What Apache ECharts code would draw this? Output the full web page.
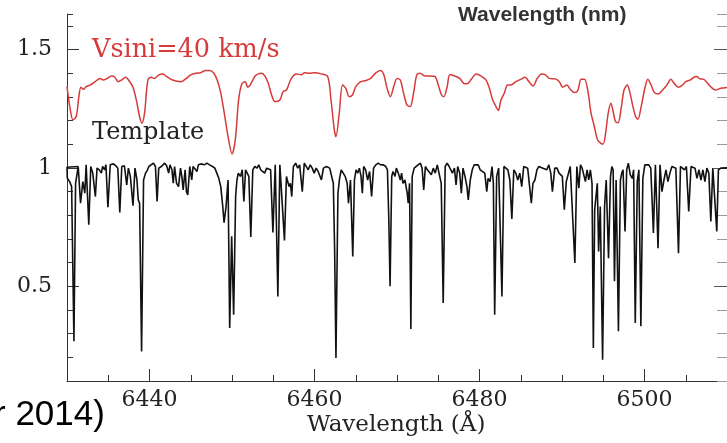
<!DOCTYPE html>
<html>
<head>
<meta charset="utf-8">
<script src="https://cdn.jsdelivr.net/npm/echarts@6/dist/echarts.min.js"></script>
<style>
  html, body { margin: 0; padding: 0; background: #fff; }
  #spectrum { width: 727px; height: 443px; }
</style>
</head>
<body>
<div id="spectrum"></div>
<script>
// axis ranges and tick labels
var waveMin = 6430, waveMax = 6510;
var fluxMin = 0.1, fluxMax = 1.65;
var waveLabels = [6440, 6460, 6480, 6500];
var fluxLabels = [0.5, 1, 1.5];

// template spectrum [wavelength (A), normalised flux]
var templateSpectrum = [
  [6431.36,1.006],[6430.00,1.003],
  [6430.04,0.956],[6430.32,0.942],[6430.56,0.921],[6430.84,0.268],[6431.04,0.935],[6431.36,1.006],
  [6431.64,0.851],[6431.92,0.942],[6432.16,0.893],[6432.32,1.013],[6432.64,0.760],[6432.88,1.006],
  [6433.12,0.978],[6433.44,0.879],[6433.64,0.999],[6433.92,0.992],[6434.16,0.978],[6434.32,1.006],
  [6434.56,0.992],[6434.72,1.013],[6434.96,0.834],[6435.24,1.013],[6435.64,1.017],[6435.92,1.009],
  [6436.16,0.999],[6436.40,0.812],[6436.64,1.006],[6436.96,1.009],[6437.24,0.928],[6437.44,0.999],
  [6437.68,0.964],[6438.00,0.840],[6438.24,0.999],[6438.48,0.949],[6438.64,0.865],[6438.80,0.851],
  [6439.04,0.225],[6439.28,0.949],[6439.52,0.978],[6439.76,0.992],[6439.92,1.006],[6440.16,0.999],
  [6440.48,1.020],[6440.72,1.006],[6440.92,0.858],[6441.12,0.999],[6441.44,1.006],[6441.84,1.020],
  [6442.08,1.009],[6442.32,0.978],[6442.48,1.013],[6442.72,0.992],[6442.88,0.935],[6443.04,1.006],
  [6443.28,0.935],[6443.52,0.921],[6443.76,0.999],[6443.92,0.964],[6444.08,0.907],[6444.32,0.992],
  [6444.48,0.900],[6444.64,0.886],[6444.88,1.006],[6445.12,0.949],[6445.28,1.006],[6445.76,0.985],
  [6445.92,1.013],[6446.24,1.017],[6446.64,1.013],[6446.96,1.020],[6447.28,1.013],[6447.64,1.006],
  [6447.92,0.999],[6448.16,0.978],[6448.40,0.956],[6448.64,0.921],[6448.88,0.837],[6449.04,0.769],
  [6449.28,0.837],[6449.52,0.949],[6449.72,0.324],[6449.96,0.711],[6450.20,0.380],[6450.44,0.879],
  [6450.60,0.949],[6450.76,0.978],[6451.04,0.964],[6451.24,0.992],[6451.44,0.858],[6451.64,0.992],
  [6451.84,0.999],[6452.04,0.964],[6452.28,0.708],[6452.52,0.992],[6452.76,1.006],[6453.04,0.999],
  [6453.24,1.013],[6453.48,0.992],[6453.72,0.999],[6453.96,0.978],[6454.20,0.999],[6454.44,1.006],
  [6454.68,0.992],[6454.96,0.727],[6455.24,1.013],[6455.56,0.457],[6455.80,1.013],[6456.04,1.006],
  [6456.36,0.694],[6456.60,0.964],[6456.76,0.942],[6456.92,0.921],[6457.08,0.935],[6457.24,0.879],
  [6457.44,1.006],[6457.72,1.020],[6457.96,0.999],[6458.20,1.013],[6458.52,0.900],[6458.76,1.020],
  [6459.00,1.013],[6459.24,0.992],[6459.48,1.013],[6459.72,0.999],[6459.96,0.978],[6460.20,0.999],
  [6460.44,0.985],[6460.84,0.949],[6461.08,0.999],[6461.44,1.006],[6461.84,0.999],[6462.04,0.992],
  [6462.28,0.935],[6462.44,0.654],[6462.60,0.197],[6462.84,0.893],[6463.04,0.956],[6463.24,0.992],
  [6463.48,0.999],[6463.72,0.964],[6463.96,0.935],[6464.12,0.851],[6464.36,0.949],[6464.64,0.626],
  [6464.84,0.949],[6465.04,0.992],[6465.24,0.978],[6465.44,0.999],[6465.64,0.964],[6465.80,0.893],
  [6465.96,1.006],[6466.20,0.992],[6466.44,0.949],[6466.68,0.985],[6466.92,0.879],[6467.16,0.999],
  [6467.44,1.013],[6467.72,1.020],[6468.04,1.013],[6468.36,1.013],[6468.64,1.006],[6468.84,0.992],
  [6469.00,0.795],[6469.16,0.500],[6469.36,0.964],[6469.52,0.985],[6469.76,0.964],[6469.92,0.999],
  [6470.16,0.978],[6470.40,0.949],[6470.56,0.978],[6470.72,0.935],[6470.96,0.949],[6471.24,0.893],
  [6471.36,0.851],[6471.52,0.935],[6471.68,0.320],[6471.84,0.964],[6472.08,0.999],[6472.32,1.006],
  [6472.56,1.013],[6472.84,1.020],[6473.04,0.999],[6473.24,0.907],[6473.44,1.006],[6473.68,0.992],
  [6473.92,0.985],[6474.16,0.971],[6474.40,0.999],[6474.64,0.978],[6474.88,1.013],[6475.12,1.006],
  [6475.36,0.935],[6475.60,0.429],[6475.84,1.006],[6476.08,1.020],[6476.32,1.006],[6476.48,1.013],
  [6476.72,0.978],[6476.96,0.999],[6477.16,0.928],[6477.36,1.006],[6477.60,0.978],[6477.80,0.893],
  [6478.00,0.999],[6478.24,0.964],[6478.48,0.921],[6478.64,0.865],[6478.88,0.949],[6479.12,0.992],
  [6479.36,1.013],[6479.60,1.006],[6479.84,1.013],[6480.08,0.992],[6480.32,0.999],[6480.64,0.978],
  [6480.88,0.900],[6481.04,0.956],[6481.28,0.942],[6481.52,1.006],[6481.68,0.935],[6481.84,0.380],
  [6482.08,0.964],[6482.32,0.999],[6482.48,0.992],[6482.72,0.457],[6482.96,1.006],[6483.20,1.013],
  [6483.44,0.992],[6483.68,0.949],[6483.92,0.784],[6484.16,0.992],[6484.40,0.978],[6484.64,0.949],
  [6484.88,0.978],[6485.12,0.921],[6485.36,1.006],[6485.60,1.013],[6485.84,0.999],[6486.08,0.992],
  [6486.28,0.851],[6486.48,0.935],[6486.72,0.949],[6486.96,0.992],[6487.20,1.006],[6487.44,1.013],
  [6487.68,0.999],[6487.92,1.006],[6488.16,0.992],[6488.40,1.013],[6488.64,0.978],[6488.84,0.900],
  [6489.12,0.999],[6489.40,0.999],[6489.64,0.978],[6489.88,0.985],[6490.04,0.964],[6490.28,0.823],
  [6490.52,0.942],[6490.76,0.949],[6491.00,1.006],[6491.24,1.013],[6491.56,0.598],[6491.80,1.006],
  [6492.04,0.914],[6492.24,1.013],[6492.44,0.999],[6492.64,1.006],[6492.84,0.942],[6493.04,0.992],
  [6493.24,0.949],[6493.44,0.992],[6493.64,0.935],[6493.80,0.239],[6493.96,0.823],[6494.12,0.879],
  [6494.28,0.935],[6494.44,0.647],[6494.64,0.837],[6494.92,0.190],[6495.16,0.837],[6495.36,0.949],
  [6495.64,0.619],[6495.88,0.964],[6496.04,1.006],[6496.20,0.992],[6496.36,0.521],[6496.56,0.949],
  [6496.84,0.310],[6497.08,0.949],[6497.24,0.978],[6497.40,0.992],[6497.64,0.732],[6497.84,0.992],
  [6498.04,1.020],[6498.28,0.971],[6498.52,0.956],[6498.68,0.992],[6498.88,0.345],[6499.12,0.942],
  [6499.32,0.992],[6499.56,0.331],[6499.80,0.956],[6500.04,1.013],[6500.28,1.006],[6500.52,1.013],
  [6500.76,0.999],[6501.08,0.725],[6501.32,1.013],[6501.64,0.661],[6501.88,1.013],[6502.12,0.900],
  [6502.36,0.949],[6502.60,0.992],[6502.84,0.942],[6503.08,0.978],[6503.32,1.006],[6503.56,1.013],
  [6503.80,0.999],[6504.12,0.640],[6504.36,1.006],[6504.60,1.013],[6504.84,0.992],[6505.08,1.006],
  [6505.36,0.816],[6505.64,1.006],[6505.88,1.013],[6506.12,0.999],[6506.36,0.956],[6506.60,0.992],
  [6506.84,0.949],[6507.08,0.992],[6507.32,0.942],[6507.56,0.999],[6507.80,0.978],[6508.04,0.774],
  [6508.28,0.999],[6508.52,0.999],[6508.76,0.732],[6508.96,0.992],[6509.24,0.999],[6510.00,1.000]
];

// broadened spectrum, vsini = 40 km/s (offset +0.4)
var broadSpectrum = [
  [6430.00,1.343],[6430.40,1.245],[6430.72,1.203],[6431.12,1.217],[6431.44,1.301],[6431.68,1.341],
  [6432.00,1.332],[6432.32,1.343],[6432.80,1.350],[6433.40,1.364],[6434.00,1.378],[6434.40,1.371],
  [6434.88,1.378],[6435.40,1.388],[6435.80,1.383],[6436.20,1.364],[6436.60,1.371],[6437.12,1.383],
  [6437.60,1.364],[6438.00,1.341],[6438.40,1.287],[6438.80,1.217],[6439.08,1.189],[6439.40,1.231],
  [6439.80,1.371],[6440.20,1.383],[6440.60,1.378],[6441.12,1.393],[6441.60,1.397],[6442.00,1.388],
  [6442.80,1.371],[6443.80,1.364],[6444.40,1.376],[6445.00,1.393],[6445.60,1.400],[6446.20,1.402],
  [6446.80,1.411],[6447.28,1.411],[6447.80,1.400],[6448.20,1.371],[6448.60,1.322],[6449.00,1.245],
  [6449.52,1.132],[6450.00,1.059],[6450.40,1.118],[6450.80,1.287],[6451.20,1.355],[6451.60,1.364],
  [6451.90,1.341],[6452.20,1.350],[6452.80,1.388],[6453.20,1.397],[6453.60,1.400],[6454.00,1.388],
  [6454.40,1.357],[6454.80,1.308],[6455.20,1.280],[6455.80,1.287],[6456.20,1.322],[6456.60,1.329],
  [6457.00,1.364],[6457.40,1.388],[6457.80,1.397],[6458.40,1.393],[6458.80,1.402],[6459.40,1.400],
  [6460.00,1.402],[6460.80,1.397],[6461.60,1.386],[6462.00,1.287],[6462.40,1.161],[6462.60,1.132],
  [6463.00,1.231],[6463.40,1.350],[6463.80,1.336],[6464.20,1.301],[6464.60,1.308],[6465.00,1.343],
  [6465.60,1.364],[6466.20,1.369],[6466.80,1.378],[6467.40,1.400],[6468.00,1.411],[6468.40,1.393],
  [6468.80,1.336],[6469.20,1.301],[6469.60,1.343],[6470.00,1.378],[6470.40,1.371],[6470.80,1.315],
  [6471.20,1.266],[6471.60,1.259],[6472.00,1.315],[6472.40,1.393],[6472.80,1.400],[6473.40,1.388],
  [6474.00,1.388],[6474.60,1.386],[6475.00,1.350],[6475.40,1.308],[6475.68,1.301],[6476.08,1.343],
  [6476.40,1.393],[6477.00,1.388],[6477.60,1.378],[6478.20,1.355],[6478.60,1.357],[6479.00,1.374],
  [6479.60,1.397],[6480.20,1.388],[6480.80,1.371],[6481.20,1.336],[6481.60,1.287],[6482.00,1.259],
  [6482.28,1.242],[6482.60,1.287],[6483.00,1.315],[6483.40,1.350],[6483.80,1.350],[6484.40,1.364],
  [6485.00,1.374],[6485.52,1.383],[6486.00,1.364],[6486.48,1.346],[6487.00,1.378],[6487.52,1.397],
  [6488.00,1.393],[6488.48,1.378],[6489.20,1.376],[6489.68,1.364],[6490.08,1.341],[6490.60,1.350],
  [6491.00,1.332],[6491.52,1.318],[6491.92,1.327],[6492.32,1.374],[6492.72,1.374],[6493.12,1.329],
  [6493.52,1.231],[6493.92,1.175],[6494.32,1.118],[6494.72,1.104],[6495.00,1.101],[6495.28,1.146],
  [6495.60,1.231],[6495.92,1.273],[6496.20,1.238],[6496.48,1.196],[6496.80,1.191],[6497.20,1.259],
  [6497.52,1.329],[6497.92,1.350],[6498.20,1.322],[6498.60,1.259],[6498.92,1.217],[6499.20,1.206],
  [6499.60,1.259],[6500.00,1.329],[6500.40,1.374],[6500.80,1.350],[6501.20,1.318],[6501.68,1.312],
  [6502.20,1.329],[6502.72,1.350],[6503.20,1.374],[6503.60,1.357],[6504.08,1.341],[6504.60,1.350],
  [6505.00,1.364],[6505.52,1.371],[6506.00,1.383],[6506.32,1.386],[6506.72,1.376],[6507.20,1.374],
  [6507.60,1.360],[6508.08,1.341],[6508.60,1.329],[6509.24,1.336],[6510.00,1.340]
];

var axisColor = '#333';
var serif = 'DejaVu Serif';

var chart = echarts.init(document.getElementById('spectrum'));

var option = {
  animation: false,
  backgroundColor: '#fff',
  grid: { left: 67, right: -6, top: 14, bottom: 62 },
  xAxis: [
    {
      type: 'value', min: waveMin, max: waveMax, interval: 5,
      axisLine: { lineStyle: { color: axisColor, width: 1 } },
      axisTick: { inside: true, length: 6, lineStyle: { color: axisColor } },
      axisLabel: {
        customValues: waveLabels, margin: 8,
        fontFamily: serif, fontSize: 22, color: '#222',
        formatter: function (v) { return String(v); }
      },
      splitLine: { show: false }
    },
    {
      type: 'value', min: waveMin, max: waveMax, position: 'bottom',
      axisLine: { show: false },
      axisTick: { inside: true, length: 12, customValues: waveLabels, lineStyle: { color: axisColor } },
      axisLabel: { show: false },
      splitLine: { show: false }
    }
  ],
  yAxis: [
    {
      type: 'value', min: fluxMin, max: fluxMax, interval: 0.1, position: 'left',
      axisLine: { show: true, lineStyle: { color: axisColor, width: 1 } },
      axisTick: { show: true, inside: true, length: 6, lineStyle: { color: axisColor } },
      axisLabel: {
        customValues: fluxLabels, margin: 15,
        fontFamily: serif, fontSize: 22, color: '#222',
        formatter: function (v) { return String(v); }
      },
      splitLine: { show: false }
    },
    {
      type: 'value', min: fluxMin, max: fluxMax, position: 'left',
      axisLine: { show: false },
      axisTick: { show: true, inside: true, length: 12, customValues: fluxLabels, lineStyle: { color: axisColor } },
      axisLabel: { show: false },
      splitLine: { show: false }
    },
    {
      type: 'value', min: fluxMin, max: fluxMax, interval: 0.1, position: 'right',
      axisLine: { show: true, lineStyle: { color: '#777' } },
      axisTick: { show: true, inside: true, length: 10, lineStyle: { color: '#999' } },
      axisLabel: { show: false },
      splitLine: { show: false }
    },
    {
      type: 'value', min: fluxMin, max: fluxMax, position: 'right',
      axisLine: { show: false },
      axisTick: { show: true, inside: true, length: 13, customValues: fluxLabels, lineStyle: { color: '#555' } },
      axisLabel: { show: false },
      splitLine: { show: false }
    }
  ],
  series: [
    {
      name: 'Template', type: 'line', data: templateSpectrum,
      showSymbol: false, symbol: 'none',
      lineStyle: { color: '#111', width: 1.6 }
    },
    {
      name: 'Vsini=40 km/s', type: 'line', data: broadSpectrum,
      showSymbol: false, symbol: 'none', smooth: 0.3,
      lineStyle: { color: '#d63a3a', width: 1.5 }
    }
  ],
  graphic: [
    { type: 'text', left: 92, top: 37, style: { text: 'Vsini=40 km/s', fill: '#d63a3a', font: '25.5px "DejaVu Serif"' } },
    { type: 'text', left: 92, top: 121, style: { text: 'Template', fill: '#222', font: '24px "DejaVu Serif"' } },
    { type: 'text', left: 458, top: 5, style: { text: 'Wavelength (nm)', fill: '#333', font: 'bold 21px "Liberation Sans"' } },
    { type: 'text', left: 307, top: 414, style: { text: 'Wavelength (Å)', fill: '#222', font: '23px "DejaVu Serif"' } },
    { type: 'text', left: -6, top: 398, style: { text: 'r 2014)', fill: '#000', font: '35px "Liberation Sans"' } }
  ]
};

chart.setOption(option);
</script>
</body>
</html>
